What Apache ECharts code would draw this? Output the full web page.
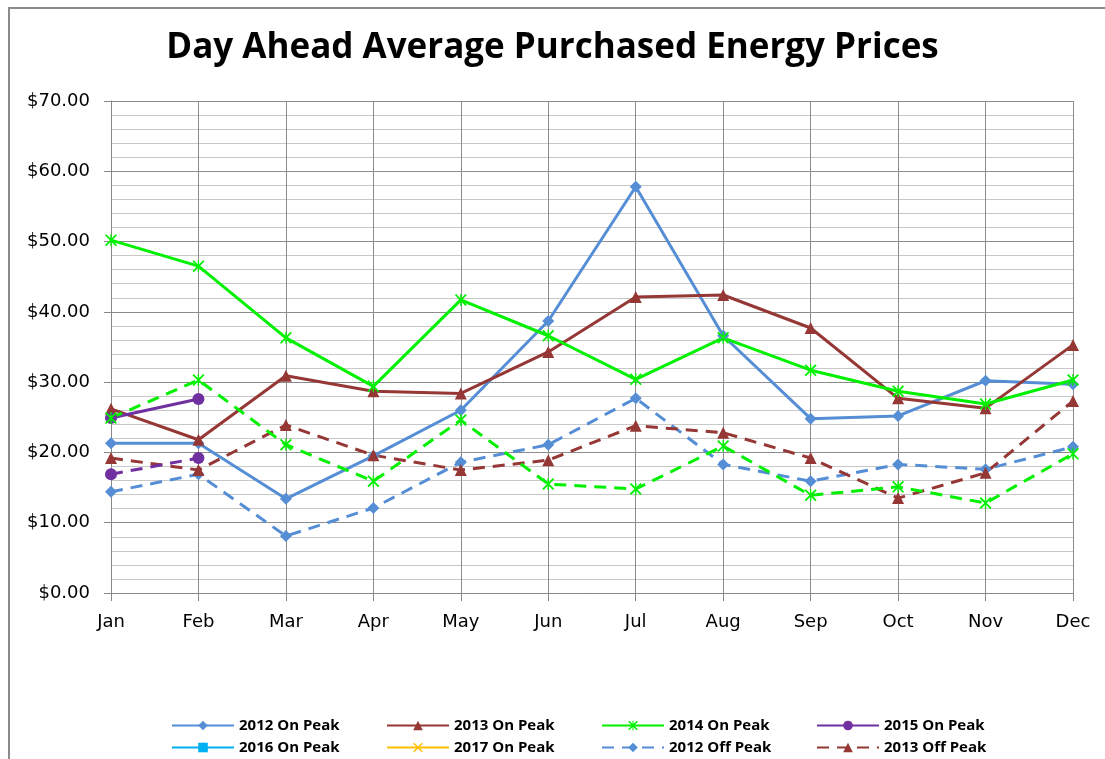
<!DOCTYPE html>
<html>
<head>
<meta charset="utf-8">
<style>
  html, body { margin: 0; padding: 0; background: #fff; }
  #chart { width: 1105px; height: 759px; }
</style>
<script src="https://cdn.jsdelivr.net/npm/echarts@6/dist/echarts.min.js"></script>
</head>
<body>
<div id="chart"></div>
<script>
// months on the x axis
var months = ["Jan", "Feb", "Mar", "Apr", "May", "Jun", "Jul", "Aug", "Sep", "Oct", "Nov", "Dec"];

// prices, $ per MWh
var on2012 = [21.3, 21.3, 13.4, 19.5, 26.0, 38.7, 57.8, 36.6, 24.8, 25.2, 30.2, 29.7];
var on2013 = [26.2, 21.8, 30.9, 28.7, 28.4, 34.3, 42.1, 42.4, 37.7, 27.7, 26.3, 35.3];
var on2014 = [50.2, 46.5, 36.3, 29.4, 41.7, 36.6, 30.4, 36.3, 31.7, 28.7, 26.9, 30.3];
var on2015 = [24.9, 27.6];
var on2016 = [];
var on2017 = [];
var off2012 = [14.4, 16.9, 8.1, 12.1, 18.6, 21.1, 27.7, 18.3, 15.9, 18.3, 17.6, 20.8];
var off2013 = [19.2, 17.5, 23.9, 19.6, 17.5, 18.9, 23.8, 22.8, 19.2, 13.5, 17.1, 27.3];
var off2014 = [24.9, 30.3, 21.1, 15.9, 24.6, 15.5, 14.8, 20.9, 13.9, 15.1, 12.8, 19.8];
var off2015 = [16.9, 19.2];

var legendNames = ["2012 On Peak", "2013 On Peak", "2014 On Peak", "2015 On Peak",
  "2016 On Peak", "2017 On Peak", "2012 Off Peak", "2013 Off Peak"];

var blue = "#558ED5", brown = "#953735", green = "#00F000", purple = "#7030A0";
var star = "path://M9,0 L11,0 L11,20 L9,20 Z M1,2 L3,0 L19,18 L17,20 Z M17,0 L19,2 L3,20 L1,18 Z";
var cross = "path://M1,2 L3,0 L19,18 L17,20 Z M17,0 L19,2 L3,20 L1,18 Z";

function line(name, data, color, symbol, size, dashed) {
  return {
    name: name,
    type: "line",
    data: data,
    symbol: symbol,
    symbolSize: size,
    itemStyle: { color: color },
    lineStyle: { color: color, width: 3, type: dashed ? [12, 8] : "solid" },
    emphasis: { disabled: true },
  };
}

var chart = echarts.init(document.getElementById("chart"));
var option = {
  animation: false,
  title: {
    text: "Day Ahead Average Purchased Energy Prices",
    left: "center",
    top: 26,
    textStyle: { fontFamily: "Open Sans", fontWeight: "bold", fontSize: 35, color: "#000" },
  },
  graphic: [
    {
      type: "polyline",
      shape: { points: [[9, 759], [9, 8], [1105, 8]] },
      style: { stroke: "#8a8a8a", lineWidth: 2, fill: null },
    },
  ],
  legend: {
    data: legendNames,
    left: 166,
    top: 711,
    width: 880,
    itemWidth: 62,
    itemHeight: 12,
    itemGap: 3,
    textStyle: {
      fontFamily: "Open Sans",
      fontWeight: "bold",
      fontSize: 15,
      color: "#000",
      lineHeight: 19,
      rich: { a: { width: 144, fontFamily: "Open Sans", fontWeight: "bold", fontSize: 15 } },
    },
    formatter: "{a|{name}}",
  },
  grid: { left: 111, top: 101, right: 32, bottom: 166 },
  xAxis: {
    type: "category",
    data: months,
    boundaryGap: false,
    axisLine: { lineStyle: { color: "#888", width: 1 } },
    axisTick: { show: true, length: 8, lineStyle: { color: "#888" } },
    axisLabel: { color: "#000", fontFamily: "DejaVu Sans", fontSize: 18, margin: 20 },
    splitLine: { show: true, lineStyle: { color: "#8c8c8c", width: 1 } },
  },
  yAxis: {
    type: "value",
    min: 0,
    max: 70,
    interval: 10,
    axisLine: { show: true, lineStyle: { color: "#888", width: 1 } },
    axisTick: { show: true, length: 7, lineStyle: { color: "#888" } },
    axisLabel: {
      color: "#000",
      fontFamily: "DejaVu Sans",
      fontSize: 18,
      margin: 21,
      formatter: function (v) { return "$" + v.toFixed(2); },
    },
    splitLine: { show: true, lineStyle: { color: "#8c8c8c", width: 1 } },
    minorTick: { show: false, splitNumber: 5 },
    minorSplitLine: { show: true, lineStyle: { color: "#c8c8c8", width: 1 } },
  },
  series: [
    line("2012 On Peak", on2012, blue, "diamond", 12, false),
    line("2013 On Peak", on2013, brown, "triangle", 12, false),
    line("2014 On Peak", on2014, green, star, 12, false),
    line("2015 On Peak", on2015, purple, "circle", 12, false),
    line("2016 On Peak", on2016, "#00B0F0", "rect", 10, false),
    line("2017 On Peak", on2017, "#FFC000", cross, 10, false),
    line("2012 Off Peak", off2012, blue, "diamond", 12, true),
    line("2013 Off Peak", off2013, brown, "triangle", 12, true),
    line("2014 Off Peak", off2014, green, star, 12, true),
    line("2015 Off Peak", off2015, purple, "circle", 12, true),
  ],
};
chart.setOption(option);
</script>
</body>
</html>
